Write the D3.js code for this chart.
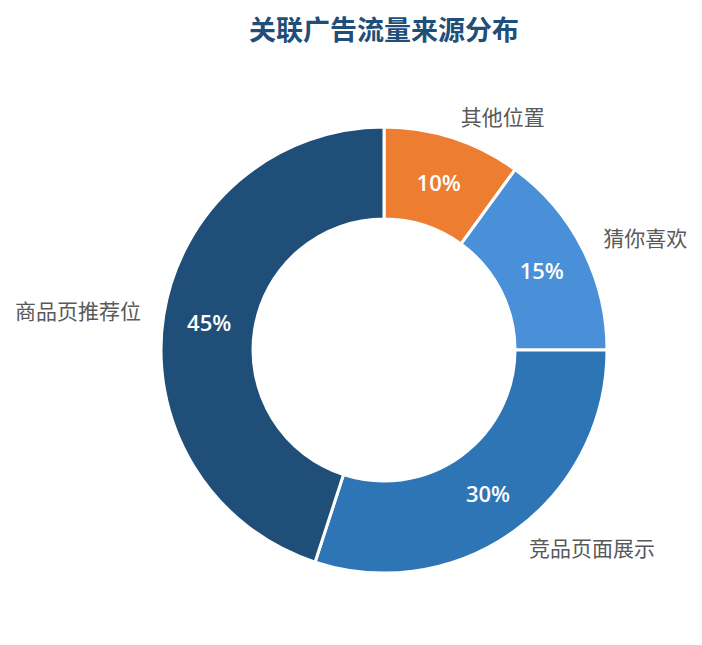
<!DOCTYPE html>
<html>
<head>
<meta charset="utf-8">
<script src="https://cdn.jsdelivr.net/npm/d3@7"></script>
<style>
  html, body { margin: 0; padding: 0; background: #fff; }
  svg { display: block; }
</style>
</head>
<body>
<div id="chart"></div>
<script>
'use strict';

var names = ['其他位置', '猜你喜欢', '竞品页面展示', '商品页推荐位'];
var values = [10, 15, 30, 45];
var colors = ['#ED7D31', '#4A90D9', '#2E75B6', '#1F4E79'];

var width = 702, height = 645;
var cx = 384, cy = 350;
var outerR = 223, innerR = 131, labelR = 245;

var svg = d3.select('#chart').append('svg')
	.attr('width', width)
	.attr('height', height);

svg.append('text')
	.attr('x', cx)
	.attr('y', 28)
	.attr('text-anchor', 'middle')
	.attr('dominant-baseline', 'central')
	.attr('font-family', '"Noto Sans CJK SC", sans-serif')
	.attr('font-size', 27)
	.attr('font-weight', 'bold')
	.attr('fill', '#1F4E79')
	.text('关联广告流量来源分布');

var data = names.map(function (n, i) { return { name: n, value: values[i], color: colors[i] }; });
var pie = d3.pie().sort(null).value(function (d) { return d.value; });
var arcs = pie(data);

var arc = d3.arc().innerRadius(innerR).outerRadius(outerR);
var midArc = d3.arc().innerRadius((innerR + outerR) / 2).outerRadius((innerR + outerR) / 2);

var g = svg.append('g').attr('transform', 'translate(' + cx + ',' + cy + ')');

g.selectAll('path.slice')
	.data(arcs)
	.enter().append('path')
	.attr('class', 'slice')
	.attr('d', arc)
	.attr('fill', function (d) { return d.data.color; })
	.attr('stroke', '#fff')
	.attr('stroke-width', 3);

// percent labels inside the ring
g.selectAll('text.pct')
	.data(arcs)
	.enter().append('text')
	.attr('class', 'pct')
	.attr('transform', function (d) { return 'translate(' + midArc.centroid(d) + ')'; })
	.attr('text-anchor', 'middle')
	.attr('dominant-baseline', 'central')
	.attr('font-family', '"Open Sans", sans-serif')
	.attr('font-size', 22)
	.attr('font-weight', 600)
	.attr('fill', '#fff')
	.text(function (d) { return d.data.value + '%'; });

// name labels outside
g.selectAll('text.name')
	.data(arcs)
	.enter().append('text')
	.attr('class', 'name')
	.attr('x', function (d) {
		var a = (d.startAngle + d.endAngle) / 2;
		var x = Math.sin(a) * labelR;
		return x >= 0 ? x + 1 : x - 1;
	})
	.attr('y', function (d) {
		var a = (d.startAngle + d.endAngle) / 2;
		return -Math.cos(a) * labelR - 1.5;
	})
	.attr('text-anchor', function (d) {
		var a = (d.startAngle + d.endAngle) / 2;
		return Math.sin(a) >= 0 ? 'start' : 'end';
	})
	.attr('dominant-baseline', 'central')
	.attr('font-family', '"Noto Sans CJK SC", sans-serif')
	.attr('font-size', 21)
	.attr('fill', '#595959')
	.text(function (d) { return d.data.name; });
</script>
</body>
</html>
